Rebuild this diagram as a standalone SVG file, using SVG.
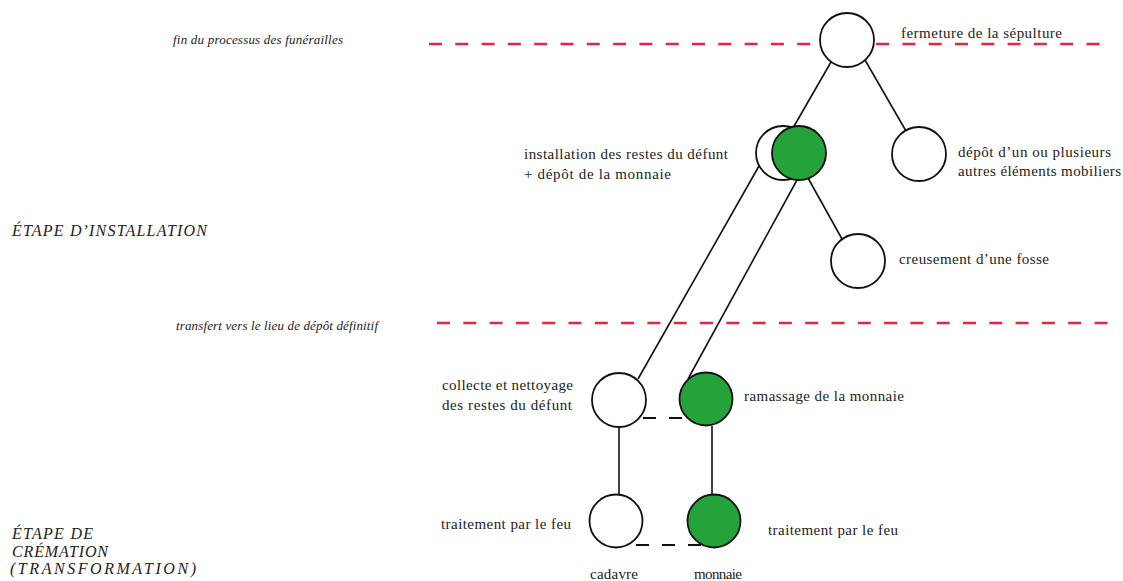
<svg xmlns="http://www.w3.org/2000/svg" width="1123" height="581" viewBox="0 0 1123 581">
<style>
.t{font-family:'Liberation Serif','DejaVu Serif','Times New Roman',serif;font-size:15px;fill:#222}
.i{font-family:'Liberation Serif','DejaVu Serif','Times New Roman',serif;font-style:italic;fill:#222}
.red{stroke:#e8253f;stroke-width:2.6;stroke-dasharray:13 13.3;fill:none}
.ln{stroke:#111;stroke-width:1.6;fill:none}
.dash{stroke:#111;stroke-width:1.8;stroke-dasharray:13 13;fill:none}
.w{fill:#fff;stroke:#111;stroke-width:1.8}
.g{fill:#25a33b;stroke:#111;stroke-width:1.8}
</style>
<rect width="1123" height="581" fill="#fff"/>
<g id="boundaries">
<line class="red" x1="429" y1="44" x2="1102" y2="44"/>
<line class="red" x1="437" y1="323" x2="1113" y2="323"/>
</g>
<g id="stage-labels">
<text class="i" x="173" y="44" font-size="13" textLength="170" lengthAdjust="spacing">fin du processus des funérailles</text>
<text class="i" x="12" y="236" font-size="16" textLength="195" lengthAdjust="spacing">ÉTAPE D’INSTALLATION</text>
<text class="i" x="176" y="330" font-size="13" textLength="202" lengthAdjust="spacing">transfert vers le lieu de dépôt définitif</text>
<text class="i" x="12" y="539" font-size="16" textLength="81" lengthAdjust="spacing">ÉTAPE DE</text>
<text class="i" x="12" y="557" font-size="16" textLength="96" lengthAdjust="spacing">CRÉMATION</text>
<text class="i" x="10" y="574" font-size="16" textLength="186" lengthAdjust="spacing">(TRANSFORMATION)</text>
</g>
<g id="connectors">
<line class="ln" x1="831" y1="62" x2="793" y2="128"/>
<line class="ln" x1="865" y1="60" x2="906" y2="131"/>
<line class="ln" x1="808" y1="178" x2="842" y2="239"/>
<line class="ln" x1="759" y1="166" x2="638" y2="379"/>
<line class="ln" x1="797" y1="180" x2="688" y2="379"/>
<line class="ln" x1="619" y1="427" x2="619" y2="494"/>
<line class="ln" x1="712" y1="426" x2="712" y2="494"/>
<line class="dash" x1="643" y1="418" x2="686" y2="418"/>
<line class="dash" x1="636" y1="545" x2="702" y2="545"/>
</g>
<g id="node-fermeture">
<circle class="w" cx="847" cy="40" r="27"/>
<text class="t" x="901" y="38" textLength="161" lengthAdjust="spacing">fermeture de la sépulture</text>
</g>
<g id="node-installation">
<circle class="w" cx="783" cy="153" r="27"/>
<circle class="g" cx="799" cy="153" r="27"/>
<text class="t" x="524" y="159" textLength="204" lengthAdjust="spacing">installation des restes du défunt</text>
<text class="t" x="524" y="179" textLength="147" lengthAdjust="spacing">+ dépôt de la monnaie</text>
</g>
<g id="node-depot">
<circle class="w" cx="919" cy="154" r="27"/>
<text class="t" x="958" y="157" textLength="153" lengthAdjust="spacing">dépôt d’un ou plusieurs</text>
<text class="t" x="958" y="176" textLength="163" lengthAdjust="spacing">autres éléments mobiliers</text>
</g>
<g id="node-creusement">
<circle class="w" cx="858" cy="261" r="27"/>
<text class="t" x="899" y="264" textLength="150" lengthAdjust="spacing">creusement d’une fosse</text>
</g>
<g id="node-collecte">
<circle class="w" cx="619" cy="400" r="27"/>
<text class="t" x="442" y="390" textLength="131" lengthAdjust="spacing">collecte et nettoyage</text>
<text class="t" x="442" y="410" textLength="130" lengthAdjust="spacing">des restes du défunt</text>
</g>
<g id="node-ramassage">
<circle class="g" cx="706" cy="399" r="26.5"/>
<text class="t" x="744" y="401" textLength="160" lengthAdjust="spacing">ramassage de la monnaie</text>
</g>
<g id="node-feu-cadavre">
<circle class="w" cx="616" cy="521" r="26.5"/>
<text class="t" x="441" y="529" textLength="130" lengthAdjust="spacing">traitement par le feu</text>
<text class="t" x="590" y="579" textLength="48" lengthAdjust="spacing">cadavre</text>
</g>
<g id="node-feu-monnaie">
<circle class="g" cx="714" cy="521" r="26.5"/>
<text class="t" x="768" y="535" textLength="130" lengthAdjust="spacing">traitement par le feu</text>
<text class="t" x="694" y="579" textLength="48" lengthAdjust="spacing">monnaie</text>
</g>
</svg>
